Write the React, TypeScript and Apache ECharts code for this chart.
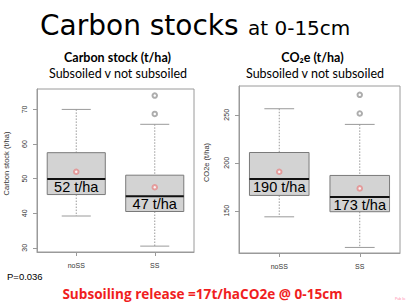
import React, { useEffect, useRef } from "react";
import * as echarts from "echarts";

// ---- data ----
const categories = ["noSS", "SS"];
// [min whisker, Q1, median, Q3, max whisker]
const carbonBoxes = [
  [39.2, 45.4, 49.9, 57.5, 70.0],
  [30.5, 40.5, 44.9, 51.0, 65.7],
];
const carbonMeans = [52.0, 47.5];
const carbonOutliers = [
  [1, 74.0],
  [1, 68.7],
];
const carbonLabels = ["52 t/ha", "47 t/ha"];

const co2Boxes = [
  [143.7, 166.0, 183.0, 210.7, 256.3],
  [111.8, 149.0, 164.3, 186.8, 240.0],
];
const co2Means = [190.6, 173.3];
const co2Outliers = [
  [1, 270.8],
  [1, 251.4],
];
const co2Labels = ["190 t/ha", "173 t/ha"];

const carbonRange = [28.8, 75.9];
const co2Range = [106, 280];

const GRAY = "#9a9a9a";
const AXIS_FONT = "'Liberation Sans', Arial, sans-serif";
const TITLE_FONT = "'DejaVu Sans', sans-serif";
const SUB_FONT = "Lato, 'Open Sans', sans-serif";

function makeRenderItem(labels: string[]) {
  return (params: any, api: any) => {
    const ci = api.value(0);
    const lo = api.coord([ci, api.value(1)]);
    const q1 = api.coord([ci, api.value(2)]);
    const md = api.coord([ci, api.value(3)]);
    const q3 = api.coord([ci, api.value(4)]);
    const hi = api.coord([ci, api.value(5)]);
    const band = api.size([1, 0])[0];
    const bw = band * 0.74;
    const cw = bw / 2;
    const cx = md[0];
    const dash = { stroke: GRAY, lineWidth: 1, lineDash: [1.5, 1.5] };
    const solid = { stroke: GRAY, lineWidth: 1 };
    return {
      type: "group",
      children: [
        { type: "line", shape: { x1: cx, y1: hi[1], x2: cx, y2: q3[1] }, style: dash },
        { type: "line", shape: { x1: cx, y1: q1[1], x2: cx, y2: lo[1] }, style: dash },
        { type: "line", shape: { x1: cx - cw / 2, y1: hi[1], x2: cx + cw / 2, y2: hi[1] }, style: solid },
        { type: "line", shape: { x1: cx - cw / 2, y1: lo[1], x2: cx + cw / 2, y2: lo[1] }, style: solid },
        {
          type: "rect",
          shape: { x: cx - bw / 2, y: q3[1], width: bw, height: q1[1] - q3[1] },
          style: { fill: "#d3d3d3", stroke: "#7a7a7a", lineWidth: 1 },
        },
        {
          type: "line",
          shape: { x1: cx - bw / 2, y1: md[1], x2: cx + bw / 2, y2: md[1] },
          style: { stroke: "#111", lineWidth: 2 },
        },
        {
          type: "text",
          x: cx,
          y: md[1] + 8,
          style: {
            text: labels[params.dataIndex],
            fill: "#000",
            fontSize: 14.5,
            fontFamily: AXIS_FONT,
            align: "center",
            verticalAlign: "middle",
            textAlign: "center",
            textVerticalAlign: "middle",
          },
        },
      ],
    };
  };
}

function boxData(boxes: number[][]) {
  return boxes.map((b, i) => [i, ...b]);
}

function meansData(means: number[]) {
  return means.map((m, i) => [i, m]);
}

export default function App() {
  const ref = useRef<HTMLDivElement>(null);
  useEffect(() => {
    if (!ref.current) return;
    const chart = echarts.init(ref.current, null, { renderer: "svg" });

    const xAxisCommon = {
      type: "category",
      data: categories,
      boundaryGap: true,
      axisLine: { show: true, lineStyle: { color: GRAY } },
      axisTick: { show: true, alignWithLabel: true, length: 4, lineStyle: { color: GRAY } },
      axisLabel: { fontSize: 7, color: "#333", margin: 10, fontFamily: AXIS_FONT },
      splitLine: { show: false },
    };
    const yAxisCommon = {
      type: "value",
      nameLocation: "middle",
      nameTextStyle: { fontSize: 7.5, color: "#333", fontFamily: AXIS_FONT, padding: [0, 0, 0, 14] },
      axisLine: { show: true, lineStyle: { color: GRAY } },
      axisTick: { show: true, length: 4, lineStyle: { color: GRAY } },
      axisLabel: {
        fontSize: 7,
        color: "#333",
        rotate: 90,
        margin: 9,
        fontFamily: AXIS_FONT,
        showMinLabel: false,
        showMaxLabel: false,
      },
      splitLine: { show: false },
    };

    const meanStyle = { color: "#e58a8a", borderColor: "#e58a8a", borderWidth: 0.8 };
    const outStyle = { color: "#999", borderColor: "#999", borderWidth: 0.8 };

    const option: any = {
      animation: false,
      backgroundColor: "#fff",
      grid: [
        { left: 37, top: 89, width: 157, height: 163, show: true, borderColor: GRAY, borderWidth: 1 },
        { left: 239, top: 86, width: 161, height: 167, show: true, borderColor: GRAY, borderWidth: 1 },
      ],
      xAxis: [
        { ...xAxisCommon, gridIndex: 0 },
        { ...xAxisCommon, gridIndex: 1 },
      ],
      yAxis: [
        {
          ...yAxisCommon,
          gridIndex: 0,
          name: "Carbon stock (t/ha)",
          nameGap: 27,
          min: carbonRange[0],
          max: carbonRange[1],
          splitNumber: 5,
          minInterval: 10,
          maxInterval: 10,
        },
        {
          ...yAxisCommon,
          gridIndex: 1,
          name: "CO2e (t/ha)",
          nameGap: 29,
          min: co2Range[0],
          max: co2Range[1],
          splitNumber: 3,
          minInterval: 50,
          maxInterval: 50,
        },
      ],
      series: [
        {
          type: "custom",
          xAxisIndex: 0,
          yAxisIndex: 0,
          renderItem: makeRenderItem(carbonLabels),
          encode: { x: 0, y: [1, 2, 3, 4, 5] },
          data: boxData(carbonBoxes),
          z: 2,
        },
        {
          type: "scatter",
          xAxisIndex: 0,
          yAxisIndex: 0,
          symbol: "emptyCircle",
          symbolSize: 4.5,
          itemStyle: meanStyle,
          data: meansData(carbonMeans),
          z: 5,
        },
        {
          type: "scatter",
          xAxisIndex: 0,
          yAxisIndex: 0,
          symbol: "emptyCircle",
          symbolSize: 4.5,
          itemStyle: outStyle,
          data: carbonOutliers,
          z: 5,
        },
        {
          type: "custom",
          xAxisIndex: 1,
          yAxisIndex: 1,
          renderItem: makeRenderItem(co2Labels),
          encode: { x: 0, y: [1, 2, 3, 4, 5] },
          data: boxData(co2Boxes),
          z: 2,
        },
        {
          type: "scatter",
          xAxisIndex: 1,
          yAxisIndex: 1,
          symbol: "emptyCircle",
          symbolSize: 4.5,
          itemStyle: meanStyle,
          data: meansData(co2Means),
          z: 5,
        },
        {
          type: "scatter",
          xAxisIndex: 1,
          yAxisIndex: 1,
          symbol: "emptyCircle",
          symbolSize: 4.5,
          itemStyle: outStyle,
          data: co2Outliers,
          z: 5,
        },
      ],
      graphic: [
        {
          type: "text",
          x: 40,
          y: 25,
          style: {
            text: "Carbon stocks",
            fontSize: 28,
            fontFamily: TITLE_FONT,
            fill: "#000",
            align: "left",
            verticalAlign: "middle",
          },
        },
        {
          type: "text",
          x: 248,
          y: 28,
          style: {
            text: "at 0-15cm",
            fontSize: 20,
            fontFamily: TITLE_FONT,
            fill: "#000",
            align: "left",
            verticalAlign: "middle",
          },
        },
        {
          type: "text",
          x: 117.5,
          y: 57.5,
          style: {
            text: "Carbon stock (t/ha)",
            fontSize: 12.5,
            fontWeight: "bold",
            fontFamily: SUB_FONT,
            fill: "#000",
            align: "center",
            verticalAlign: "middle",
          },
        },
        {
          type: "text",
          x: 118,
          y: 73,
          style: {
            text: "Subsoiled v not subsoiled",
            fontSize: 12.5,
            fontFamily: SUB_FONT,
            fill: "#000",
            align: "center",
            verticalAlign: "middle",
          },
        },
        {
          type: "text",
          x: 312.5,
          y: 57.5,
          style: {
            text: "CO₂e (t/ha)",
            fontSize: 12.5,
            fontWeight: "bold",
            fontFamily: SUB_FONT,
            fill: "#000",
            align: "center",
            verticalAlign: "middle",
          },
        },
        {
          type: "text",
          x: 315,
          y: 73,
          style: {
            text: "Subsoiled v not subsoiled",
            fontSize: 12.5,
            fontFamily: SUB_FONT,
            fill: "#000",
            align: "center",
            verticalAlign: "middle",
          },
        },
        {
          type: "text",
          x: 7,
          y: 276,
          style: {
            text: "P=0.036",
            fontSize: 9.5,
            fontFamily: AXIS_FONT,
            fill: "#000",
            align: "left",
            verticalAlign: "middle",
          },
        },
        {
          type: "text",
          x: 202.5,
          y: 293,
          style: {
            text: "Subsoiling release =17t/haCO2e @ 0-15cm",
            fontSize: 13.6,
            fontWeight: "bold",
            fontFamily: "'Open Sans', sans-serif",
            fill: "#f01e1e",
            align: "center",
            verticalAlign: "middle",
          },
        },
        {
          type: "text",
          x: 395,
          y: 299,
          style: {
            text: "Pub lic",
            fontSize: 3.5,
            fontFamily: AXIS_FONT,
            fill: "#ff88aa",
            align: "left",
            verticalAlign: "middle",
          },
        },
      ],
    };
    chart.setOption(option);
    return () => chart.dispose();
  }, []);

  return (
    <div
      ref={ref}
      style={{ position: "fixed", left: 0, top: 0, width: 406, height: 304, background: "#fff" }}
    />
  );
}
